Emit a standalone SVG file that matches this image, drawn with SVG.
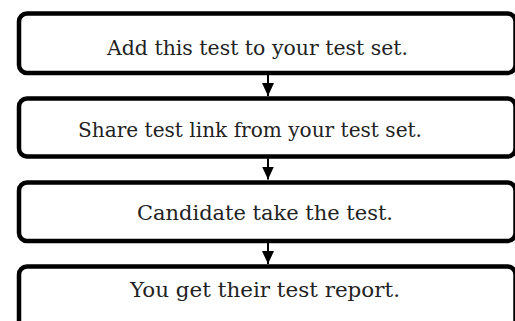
<svg xmlns="http://www.w3.org/2000/svg" width="515" height="321" viewBox="0 0 515 321">
<style>
.box{fill:#fff;stroke:#000;stroke-width:4.5}
.t{font-family:"DejaVu Serif","Liberation Serif",serif;font-size:20px;fill:#222}
.ln{stroke:#000;stroke-width:2;fill:none}
</style>
<defs>
<marker id="ah" markerWidth="13" markerHeight="12" refX="13" refY="6" orient="auto" markerUnits="userSpaceOnUse" viewBox="0 0 13 12">
<path d="M0,0 L13,6 L0,12 Z" fill="#000"/>
</marker>
</defs>
<rect width="515" height="321" fill="#fff"/>
<g id="node1">
<rect class="box" x="19" y="13.5" width="496.5" height="59.5" rx="8"/>
<text class="t" x="107" y="55" textLength="301" lengthAdjust="spacingAndGlyphs">Add this test to your test set.</text>
</g>
<g id="node2">
<rect class="box" x="19" y="98.5" width="496.5" height="58" rx="8"/>
<text class="t" x="78" y="137" textLength="344" lengthAdjust="spacingAndGlyphs">Share test link from your test set.</text>
</g>
<g id="node3">
<rect class="box" x="19" y="182.5" width="496.5" height="58.5" rx="8"/>
<text class="t" x="137" y="220" textLength="256" lengthAdjust="spacingAndGlyphs">Candidate take the test.</text>
</g>
<g id="node4">
<rect class="box" x="19" y="266.5" width="496.5" height="62" rx="8"/>
<text class="t" x="130" y="297" textLength="270" lengthAdjust="spacingAndGlyphs">You get their test report.</text>
</g>
<g id="connectors">
<line class="ln" x1="268" y1="75" x2="268" y2="96" marker-end="url(#ah)"/>
<line class="ln" x1="268" y1="158.5" x2="268" y2="179.5" marker-end="url(#ah)"/>
<line class="ln" x1="268" y1="243" x2="268" y2="264" marker-end="url(#ah)"/>
</g>
</svg>
